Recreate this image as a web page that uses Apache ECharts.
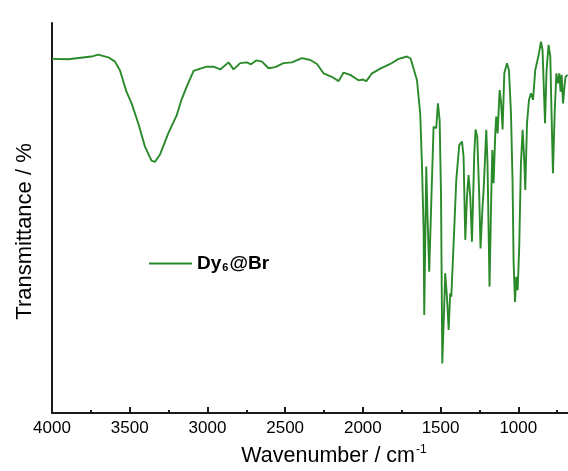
<!DOCTYPE html>
<html>
<head>
<meta charset="utf-8">
<script src="https://cdn.jsdelivr.net/npm/echarts@6/dist/echarts.min.js"></script>
<style>html,body{margin:0;padding:0;background:#fff}#c{width:568px;height:471px}</style>
</head>
<body>
<div id="c"></div>
<script>
// Wavenumber (cm-1) and transmittance (%)
var wavenumbers = [4000,3896,3746,3703,3638,3595,3563,3521,3488,3445,3402,3360,3338,3306,3252,3198,3167,3132,3089,3046,3003,2961,2918,2864,2832,2789,2746,2720,2686,2649,2607,2564,2510,2456,2392,2338,2295,2253,2199,2156,2124,2081,2028,1999,1978,1941,1888,1824,1770,1716,1693,1652,1631,1620,1609,1605,1592,1584,1573,1560,1545,1534,1528,1517,1506,1497,1489,1478,1470,1459,1448,1438,1431,1416,1399,1380,1362,1352,1341,1330,1320,1309,1298,1283,1275,1264,1251,1243,1230,1223,1206,1198,1185,1174,1167,1159,1148,1142,1133,1120,1111,1101,1090,1073,1060,1047,1037,1030,1021,1013,1004,994,983,972,961,955,944,931,918,905,891,867,854,844,828,818,805,794,786,777,766,755,745,736,728,721,712,704,696,683];
var transmittance = [90.8,90.7,91.4,91.9,91.2,90.1,87.9,82.4,79.4,74.3,68.3,64.7,64.4,66.2,71.7,76.3,80.3,83.8,87.7,88.3,88.8,88.8,88.1,89.9,88.1,89.7,89.9,89.4,90.4,90.1,88.4,88.7,89.7,89.9,91.0,90.5,89.5,87.1,86.2,85.1,87.3,86.7,85.3,85.5,85.1,87.1,88.3,89.5,90.8,91.4,90.9,85.4,76.8,64.0,46.9,25.1,63.2,50.3,36.2,53.8,73.4,73.8,73.0,79.4,75.1,55.5,12.7,25.6,35.8,29.8,21.3,30.7,29.8,43.5,59.7,68.7,69.6,65.7,44.4,55.5,61.0,55.5,43.9,66.6,72.7,70.8,55.5,42.2,52.9,57.2,72.6,64.0,32.4,55.5,67.4,58.9,71.7,76.0,71.7,82.8,79.8,72.7,87.1,89.7,87.9,76.8,59.7,38.4,28.5,34.9,31.5,42.6,64.0,72.6,64.0,57.2,74.3,80.3,82.0,80.3,87.9,92.2,95.2,93.1,74.3,87.9,94.4,91.4,76.8,61.5,76.8,87.1,84.5,87.1,82.4,86.7,79.4,83.3,86.2,86.7];
var xTickInterval = 500;
var seriesName = 'Dy6@Br';

var points = wavenumbers.map(function (w, i) { return [w, transmittance[i]]; });
var FONT = 'Arial, "Liberation Sans", sans-serif';
var GREEN = '#2a8a2a';
var chart = echarts.init(document.getElementById('c'), null, {renderer: 'canvas'});
chart.setOption({
  animation: false,
  backgroundColor: '#ffffff',
  grid: {left: 52, right: -28, top: 23, bottom: 58, containLabel: false, outerBoundsMode: 'none'},
  legend: {
    show: true,
    left: 144, top: 249,
    itemWidth: 43, itemHeight: 14,
    data: [{name: seriesName, icon: 'rect', itemStyle: {color: GREEN}}],
    itemHeight: 2,
    formatter: function () { return '{a|Dy}{s|6}{a|@Br}'; },
    textStyle: {
      rich: {
        a: {fontFamily: FONT, fontSize: 19, fontWeight: 'bold', color: '#000'},
        s: {fontFamily: FONT, fontSize: 11, fontWeight: 'bold', color: '#000', padding: [8, 1, 0, 1]}
      }
    }
  },
  xAxis: {
    type: 'value',
    inverse: true,
    min: 500, max: 4000, interval: xTickInterval,
    name: '{a|Wavenumber / cm}{s|-1}',
    nameLocation: 'middle',
    nameGap: 31,
    nameTextStyle: {
      padding: [0, 0, 0, 20],
      rich: {
        a: {fontFamily: FONT, fontSize: 21.5, color: '#000'},
        s: {fontFamily: FONT, fontSize: 12, color: '#000', padding: [0, 0, 12, 1]}
      }
    },
    axisLine: {show: true, lineStyle: {color: '#1a1a1a', width: 2}},
    axisTick: {show: true, inside: true, length: 6, lineStyle: {color: '#1a1a1a', width: 2}},
    minorTick: {show: true, splitNumber: 2, length: 3, lineStyle: {color: '#1a1a1a', width: 2}},
    axisLabel: {fontFamily: FONT, fontSize: 17, color: '#000', margin: 7, formatter: function (v) { return String(v); }},
    splitLine: {show: false}
  },
  yAxis: {
    type: 'value',
    min: 0, max: 100,
    name: 'Transmittance / %',
    nameLocation: 'middle',
    nameGap: 16,
    nameTextStyle: {fontFamily: FONT, fontSize: 22, color: '#000', padding: [0, 27, 0, 0]},
    axisLine: {show: true, lineStyle: {color: '#1a1a1a', width: 2}},
    axisTick: {show: false},
    axisLabel: {show: false},
    splitLine: {show: false}
  },
  series: [{
    name: seriesName,
    type: 'line',
    data: points,
    symbol: 'none',
    smooth: false,
    lineStyle: {color: GREEN, width: 1.9},
    itemStyle: {color: GREEN}
  }]
});
</script>
</body>
</html>
